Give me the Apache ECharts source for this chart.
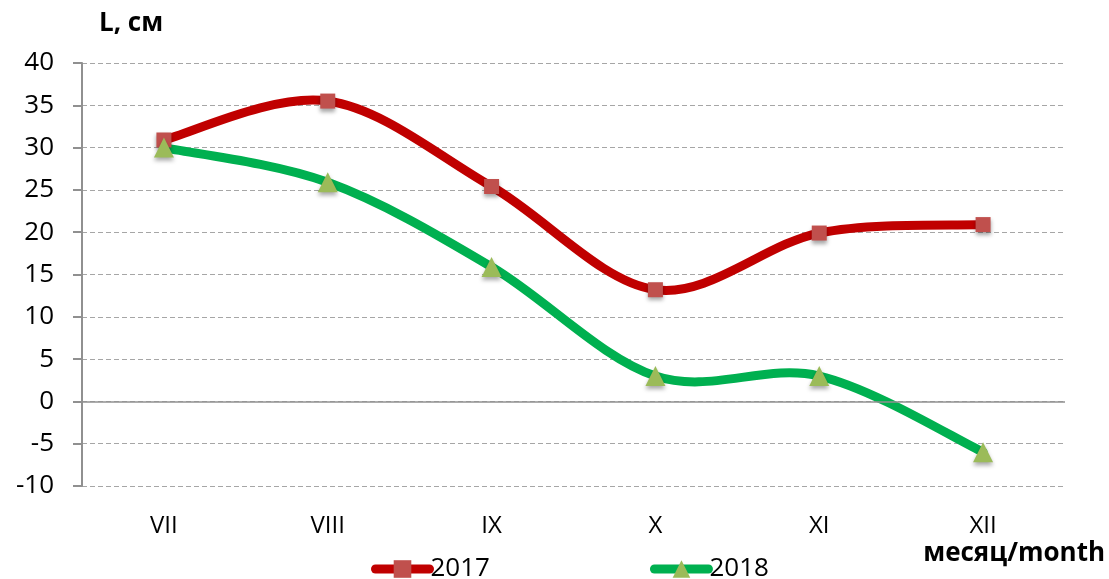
<!DOCTYPE html>
<html>
<head>
<meta charset="utf-8">
<script src="https://cdn.jsdelivr.net/npm/echarts@6/dist/echarts.min.js"></script>
<style>
html,body{margin:0;padding:0;background:#fff;}
#main{width:1109px;height:579px;}
</style>
</head>
<body>
<div id="main"></div>
<script type="text/javascript">
// данные графика
var months = ['VII', 'VIII', 'IX', 'X', 'XI', 'XII'];
var years = ['2017', '2018'];
var values2017 = [30.9, 35.5, 25.4, 13.2, 19.9, 20.9];
var values2018 = [30.0, 25.9, 15.9, 3.0, 3.0, -6.0];

var font = 'Open Sans, Liberation Sans, sans-serif';
var myChart = echarts.init(document.getElementById('main'));

// сглаженная линия как в Excel (сплайн по соседним точкам)
function curve(name, vals, color) {
	return {
		name: name + ' curve',
		type: 'custom',
		data: vals.map(function (v, i) { return [i, v]; }),
		encode: { x: 0, y: 1 },
		silent: true,
		z: 2,
		renderItem: function (params, api) {
			var i = params.dataIndex;
			if (i >= vals.length - 1) return;
			var p = function (k) {
				k = Math.max(0, Math.min(vals.length - 1, k));
				return api.coord([k, vals[k]]);
			};
			var p0 = p(i - 1), p1 = p(i), p2 = p(i + 1), p3 = p(i + 2);
			return {
				type: 'bezierCurve',
				shape: {
					x1: p1[0], y1: p1[1], x2: p2[0], y2: p2[1],
					cpx1: p1[0] + (p2[0] - p0[0]) / 6, cpy1: p1[1] + (p2[1] - p0[1]) / 6,
					cpx2: p2[0] - (p3[0] - p1[0]) / 6, cpy2: p2[1] - (p3[1] - p1[1]) / 6
				},
				style: { stroke: color, lineWidth: 9, fill: null, lineCap: 'round' }
			};
		}
	};
}

var option = {
	animation: false,
	backgroundColor: '#fff',
	grid: { left: 82, right: 44, top: 63, bottom: 93 },
	graphic: [
		{ type: 'text', left: 99, top: 11, style: { text: 'L, см', font: 'bold 26px ' + font, fill: '#000' } },
		{ type: 'text', right: 4, top: 541, style: { text: 'месяц/month', font: 'bold 26px ' + font, fill: '#000' } }
	],
	legend: {
		data: [
			{ name: years[0], lineStyle: { color: '#c00000', width: 9, opacity: 1, cap: 'round' } },
			{ name: years[1], lineStyle: { color: '#00b050', width: 9, opacity: 1, cap: 'round' } }
		],
		top: 551,
		left: 366,
		itemGap: 160,
		itemWidth: 54,
		itemHeight: 22,
		textStyle: { fontFamily: font, fontSize: 26, color: '#000', padding: [0, 0, 0, -4] }
	},
	xAxis: {
		type: 'category',
		data: months,
		axisLine: { show: false },
		axisTick: { show: false },
		axisLabel: { fontFamily: font, fontSize: 24, color: '#000', margin: 28 }
	},
	yAxis: {
		type: 'value',
		min: -10,
		max: 40,
		interval: 5,
		axisLine: { show: true, lineStyle: { color: '#909090', width: 2 } },
		axisTick: { show: true, length: 9, lineStyle: { color: '#909090', width: 2 } },
		axisLabel: { fontFamily: font, fontSize: 26, color: '#000', margin: 28 },
		splitLine: { lineStyle: { color: '#a6a6a6', type: [5, 3], width: 1 } }
	},
	series: [
		curve(years[0], values2017, '#c00000'),
		curve(years[1], values2018, '#00b050'),
		{
			name: years[0],
			type: 'line',
			data: values2017,
			symbol: 'rect',
			symbolSize: 15,
			lineStyle: { color: '#c00000', width: 9, opacity: 0 },
			itemStyle: { color: '#c0504d', shadowColor: 'rgba(0,0,0,0.35)', shadowBlur: 4, shadowOffsetY: 3 },
			markLine: {
				silent: true,
				symbol: 'none',
				label: { show: false },
				lineStyle: { color: '#909090', type: 'solid', width: 1.5, opacity: 1 },
				data: [{ yAxis: 0 }]
			},
			z: 3
		},
		{
			name: years[1],
			type: 'line',
			data: values2018,
			symbol: 'triangle',
			symbolSize: 20,
			lineStyle: { color: '#00b050', width: 9, opacity: 0 },
			itemStyle: { color: '#9bbb59', shadowColor: 'rgba(0,0,0,0.35)', shadowBlur: 4, shadowOffsetY: 3 },
			z: 4
		}
	]
};

myChart.setOption(option);
</script>
</body>
</html>
